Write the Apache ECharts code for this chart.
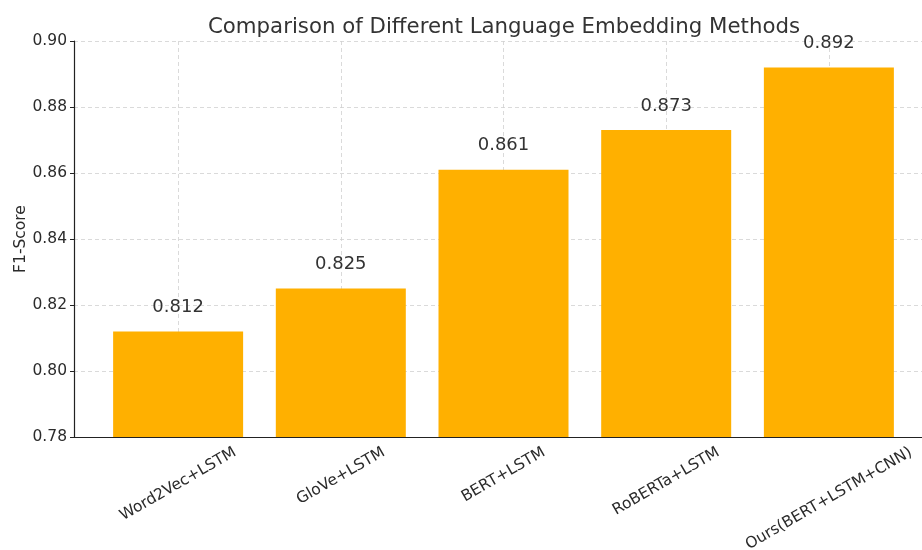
<!DOCTYPE html>
<html>
<head>
<meta charset="utf-8">
<script src="https://cdn.jsdelivr.net/npm/echarts@6/dist/echarts.min.js"></script>
<style>
  html, body { margin: 0; padding: 0; background: #fff; }
  #chart { width: 922px; height: 550px; }
</style>
</head>
<body>
<div id="chart"></div>
<script>
// data
const methods = ['Word2Vec+LSTM', 'GloVe+LSTM', 'BERT+LSTM', 'RoBERTa+LSTM', 'Ours(BERT+LSTM+CNN)'];
const f1Scores = [0.812, 0.825, 0.861, 0.873, 0.892];
const yTicks = [0.78, 0.80, 0.82, 0.84, 0.86, 0.88, 0.90];

const FONT = 'DejaVu Sans';
const LABEL_SIZE = 15.5;

// matplotlib centres rotated labels on the tick, so shift each one by its own length
const ctx = document.createElement('canvas').getContext('2d');
ctx.font = LABEL_SIZE + 'px "' + FONT + '"';
const rich = {};
methods.forEach((m, i) => {
  const w = ctx.measureText(m).width;
  const d = 7 + 0.25 * w + 0.433 * 17; // centre distance below axis
  rich['r' + i] = {
    fontFamily: FONT, fontSize: LABEL_SIZE, color: '#2b2b2b',
    padding: [1.732 * d, d, 0, 0]
  };
});

let chart = echarts.init(document.getElementById('chart'));
let option = {
  animation: false,
  title: {
    text: 'Comparison of Different Language Embedding Methods',
    left: 499,
    textAlign: 'center',
    top: 12,
    textStyle: { fontFamily: FONT, fontSize: 21.3, fontWeight: 'normal', color: '#333' }
  },
  grid: { left: 74, right: -11, top: 41, bottom: 113, outerBoundsMode: 'none' },
  xAxis: {
    type: 'value',
    min: -0.64,
    max: 4.64,
    axisLine: { show: true, onZero: false, lineStyle: { color: '#222', width: 1.2 } },
    axisTick: { show: true, inside: true, length: 4, customValues: [0, 1, 2, 3, 4], lineStyle: { color: '#222' } },
    axisLabel: {
      customValues: [0, 1, 2, 3, 4],
      rotate: 30,
      margin: 0,
      align: 'center',
      verticalAlign: 'middle',
      formatter: v => '{r' + Math.round(v) + '|' + methods[Math.round(v)] + '}',
      rich: rich
    },
    splitLine: { show: true, lineStyle: { color: '#d0d0d0', type: [4, 3], width: 0.8 } }
  },
  yAxis: {
    type: 'value',
    min: yTicks[0],
    max: yTicks[yTicks.length - 1],
    interval: 0.02,
    name: 'F1-Score',
    nameLocation: 'middle',
    nameGap: 45,
    nameMoveOverlap: false,
    nameTextStyle: { fontFamily: FONT, fontSize: 15.5, color: '#2b2b2b' },
    axisLine: { show: true, onZero: false, lineStyle: { color: '#222', width: 1.2 } },
    axisTick: { show: true, length: 4, lineStyle: { color: '#222' } },
    axisLabel: {
      fontFamily: FONT, fontSize: 15.5, color: '#2b2b2b', margin: 7,
      formatter: v => v.toFixed(2)
    },
    splitLine: { show: true, lineStyle: { color: '#d0d0d0', type: [4, 3], width: 0.8 } }
  },
  series: [{
    type: 'bar',
    data: f1Scores.map((v, i) => [i, v]),
    barWidth: 130,
    itemStyle: { color: '#FFB000' },
    label: {
      show: true,
      position: 'top',
      distance: 15,
      fontFamily: FONT,
      fontSize: 18,
      color: '#333',
      formatter: p => p.value[1].toFixed(3)
    }
  }]
};
chart.setOption(option);
</script>
</body>
</html>
